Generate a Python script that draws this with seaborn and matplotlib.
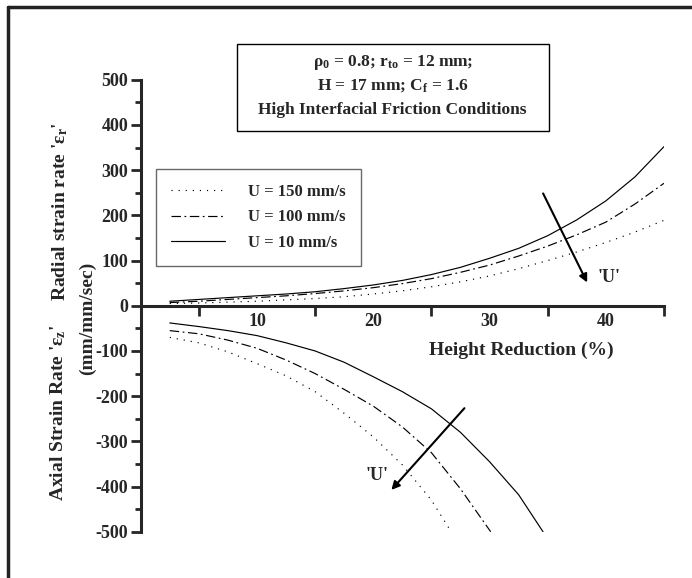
import numpy as np
import pandas as pd
import matplotlib
matplotlib.use("Agg")
import matplotlib.pyplot as plt
import seaborn as sns
from matplotlib.patches import Rectangle
from matplotlib.lines import Line2D

x_rad = [2.5, 5, 7.5, 10, 12.5, 15, 17.5, 20, 22.5, 25, 27.5, 30, 32.5, 35, 37.5, 40, 42.5, 45]
rad_150 = [5, 6, 8, 10, 13, 16, 20, 26, 33, 42, 53, 66, 82, 100, 119, 140, 163, 189]
rad_100 = [7, 10, 14, 18, 22, 27, 33, 40, 49, 60, 74, 90, 110, 132, 157, 185, 225, 271]
rad_10 = [10, 14, 18, 22, 26, 31, 38, 46, 56, 69, 85, 105, 127, 155, 190, 232, 285, 352]

# axial strain rate (lower half)
x_ax_150 = [2.5, 5, 7.5, 10, 12.5, 15, 17.5, 20, 22.5, 25, 26.7]
ax_150 = [-70, -82, -102, -128, -155, -190, -238, -290, -352, -430, -500]
x_ax_100 = [2.5, 5, 7.5, 10, 12.5, 15, 17.5, 20, 22.5, 25, 27.5, 30.1]
ax_100 = [-55, -62, -76, -94, -120, -150, -185, -222, -268, -325, -405, -500]
x_ax_10 = [2.5, 5, 7.5, 10, 12.5, 15, 17.5, 20, 22.5, 25, 27.5, 30, 32.5, 34.6]
ax_10 = [-38, -46, -55, -66, -82, -100, -125, -157, -190, -228, -280, -345, -418, -500]

labels = ["U = 150 mm/s", "U = 100 mm/s", "U = 10 mm/s"]
styles = {"U = 150 mm/s": (0, (1, 5)),
          "U = 100 mm/s": (0, (8, 3, 1.5, 3)),
          "U = 10 mm/s": "-"}

sns.set_style("ticks")
plt.rcParams["font.family"] = ["Liberation Serif", "DejaVu Serif"]
plt.rcParams["font.weight"] = "bold"
plt.rcParams["axes.unicode_minus"] = False
plt.rcParams["mathtext.fontset"] = "custom"
plt.rcParams["mathtext.rm"] = "Liberation Serif:bold"
plt.rcParams["mathtext.it"] = "Liberation Serif:bold"
plt.rcParams["mathtext.bf"] = "Liberation Serif:bold"

rows = []
for lab, xs, ys in [(labels[0], x_rad, rad_150), (labels[1], x_rad, rad_100), (labels[2], x_rad, rad_10)]:
    for a, b in zip(xs, ys):
        rows.append({"x": a, "y": b, "U": lab, "part": "radial"})
for lab, xs, ys in [(labels[0], x_ax_150, ax_150), (labels[1], x_ax_100, ax_100), (labels[2], x_ax_10, ax_10)]:
    for a, b in zip(xs, ys):
        rows.append({"x": a, "y": b, "U": lab, "part": "axial"})
df = pd.DataFrame(rows)

fig = plt.figure(figsize=(6.92, 5.78), dpi=100)
ax = fig.add_axes([0.2033, 0.080, 0.7562, 0.782])

for part in ["radial", "axial"]:
    for lab in labels:
        d = df[(df.part == part) & (df.U == lab)]
        sns.lineplot(data=d, x="x", y="y", color="black", lw=0.85,
                     linestyle=styles[lab], ax=ax, legend=False)

ax.set_xlim(0, 45)
ax.set_ylim(-500, 500)
ax.spines["top"].set_visible(False)
ax.spines["right"].set_visible(False)
ax.spines["bottom"].set_position(("data", 0))
ax.spines["bottom"].set_linewidth(2.2)
ax.spines["left"].set_linewidth(2.2)
ax.set_xlabel("")
ax.set_ylabel("")

ax.set_xticks([10, 20, 30, 40])
ax.set_xticks([5, 15, 25, 35, 45], minor=True)
ax.tick_params(axis="x", which="major", length=0, pad=5, labelsize=13)
ax.tick_params(axis="x", which="minor", length=7, width=2, direction="out")
ax.set_yticks(np.arange(-500, 501, 100))
ax.set_yticks(np.arange(-450, 500, 100), minor=True)
ax.tick_params(axis="y", which="major", length=7, width=2, direction="out", pad=2, labelsize=13)
ax.tick_params(axis="y", which="minor", length=4, width=2, direction="out")
for t in ax.get_xticklabels() + ax.get_yticklabels():
    t.set_fontweight("bold")

ax.text(32.7, -98, "Height Reduction (%)", ha="center", va="center", fontsize=14, fontweight="bold")

# arrows
ax.annotate("", xy=(38.5, 46), xytext=(34.5, 254),
            arrowprops=dict(arrowstyle="-|>", color="black", lw=1.5, mutation_scale=12))
ax.text(40.3, 63, "'U'", ha="center", va="center", fontsize=13, fontweight="bold")
ax.annotate("", xy=(21.4, -412), xytext=(28.0, -222),
            arrowprops=dict(arrowstyle="-|>", color="black", lw=1.5, mutation_scale=12))
ax.text(20.3, -376, "'U'", ha="center", va="center", fontsize=13, fontweight="bold")

# legend
handles = [Line2D([], [], color="black", lw=0.85, linestyle=styles[l]) for l in labels]
leg = ax.legend(handles, labels, loc="upper left", bbox_to_anchor=(148 / 692, 1 - 161 / 578),
                bbox_transform=fig.transFigure, frameon=True, fancybox=False,
                prop={"family": "Liberation Serif", "weight": "bold", "size": 12},
                handlelength=3.2, handletextpad=1.4, labelspacing=0.55, borderpad=0.9)
leg.get_frame().set_edgecolor("#444444")
leg.get_frame().set_linewidth(1.0)

# y-axis labels
fig.text(0.087, 0.634, "Radial strain rate '\u03b5$_{\\rm r}$'", rotation=90, ha="center", va="center",
         fontsize=14, fontweight="bold")
fig.text(0.126, 0.449, "(mm/mm/sec)", rotation=90, ha="center", va="center",
         fontsize=14, fontweight="bold")
fig.text(0.084, 0.285, "Axial Strain Rate '\u03b5$_{\\rm z}$'", rotation=90, ha="center", va="center",
         fontsize=14, fontweight="bold")

# parameter box
fig.add_artist(Rectangle((237 / 692, 1 - 130.5 / 578), 311.5 / 692, 86.5 / 578,
                         transform=fig.transFigure, fill=False, edgecolor="black", lw=1.0))
fig.text(392.7 / 692, 1 - 62 / 578, "\u03c1$_0$ = 0.8; r$_{\\rm to}$ = 12 mm;", ha="center", va="center",
         fontsize=12.5, fontweight="bold")
fig.text(392.7 / 692, 1 - 86 / 578, "H = 17 mm; C$_{\\rm f}$ = 1.6", ha="center", va="center",
         fontsize=12.5, fontweight="bold")
fig.text(392.7 / 692, 1 - 110 / 578, "High Interfacial Friction Conditions", ha="center", va="center",
         fontsize=12.5, fontweight="bold")

# outer frame (top and left edges)
fig.add_artist(Line2D([8 / 692, 8 / 692], [0, 1 - 7 / 578], transform=fig.transFigure, color="#222222", lw=2.5))
fig.add_artist(Line2D([8 / 692, 1], [1 - 7 / 578, 1 - 7 / 578], transform=fig.transFigure, color="#222222", lw=2.5))

fig.savefig("out.png", dpi=100)
